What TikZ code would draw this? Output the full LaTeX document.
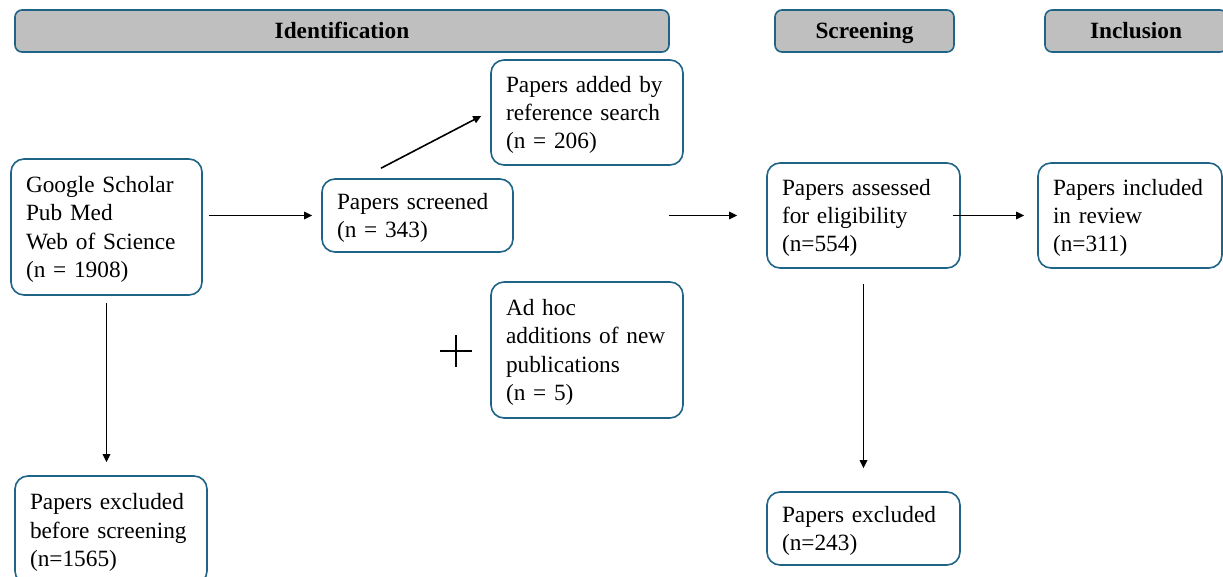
\documentclass[tikz,border=0pt]{standalone}
\usepackage{fontspec}
\setmainfont{Liberation Serif}
\usepackage{xcolor}
\usetikzlibrary{arrows.meta}
\usetikzlibrary{positioning}

\definecolor{boxblue}{RGB}{31,100,135}
\definecolor{bargray}{RGB}{191,191,191}

\tikzset{
	paperbox/.style={draw=boxblue, line width=1.6pt, rounded corners=13pt, fill=white,
		align=left, inner xsep=15pt, inner ysep=0pt,
		font=\fontsize{23.3}{28.4}\selectfont,
		execute at begin node={\rule{0pt}{21pt}}},
	phasebar/.style={draw=boxblue, line width=1.6pt, rounded corners=7pt, fill=bargray,
		minimum height=42pt, inner sep=0pt, text height=16pt, text depth=0pt,
		font=\fontsize{23.3}{28}\selectfont\bfseries},
	flowarrow/.style={line width=1.6pt, -{Triangle[length=8pt,width=7.5pt]}}
}

\begin{document}
\begin{tikzpicture}[x=1pt, y=-1pt]
	\useasboundingbox (0,0) rectangle (1223,577);
	
	% phase bars
	\node[phasebar, minimum width=654pt] (ident) at (342,31) {Identification};
	\node[phasebar, minimum width=179pt] (screen) at (864.5,31) {Screening};
	\node[phasebar, minimum width=182pt] (incl) at (1136,31) {Inclusion};
	
	% boxes
	\node[paperbox, text width=161pt, minimum height=136pt] (search) at (106.5,227) {Google Scholar\\Pub Med\\Web of Science\\(n = 1908)};
	\node[paperbox, text width=161pt, minimum height=73pt] (screened) at (417.5,215.5) {Papers screened\\(n = 343)};
	\node[paperbox, text width=162pt, minimum height=105pt] (added) at (587,112.5) {Papers added by\\reference search\\(n = 206)};
	\node[paperbox, text width=162pt, minimum height=136pt] (adhoc) at (587,350) {Ad hoc\\additions of new\\publications\\(n = 5)};
	\node[paperbox, text width=163pt, minimum height=105pt] (assessed) at (863.5,215.5) {Papers assessed\\for eligibility\\(n=554)};
	\node[paperbox, text width=154pt, minimum height=105pt] (included) at (1130,215.5) {Papers included\\in review\\(n=311)};
	\node[paperbox, text width=162pt, minimum height=108pt] (excluded) at (111,530) {Papers excluded\\before screening\\(n=1565)};
	\node[paperbox, text width=163pt, minimum height=73pt] (excl) at (863.5,528.5) {Papers excluded\\(n=243)};
	
	% add arrows
	\draw[flowarrow, shorten <=6pt, shorten >=9pt] (search.east |- screened.west) -- (screened.west);
	\draw[flowarrow] ([xshift=-36.5pt, yshift=10pt]screened.north) -- ([xshift=-9pt, yshift=-3.5pt]added.west);
	\draw[flowarrow, shorten <=155pt, shorten >=29pt] (screened.east) -- (assessed.west);
	\draw[flowarrow, shorten <=-8pt, shorten >=13pt] (assessed.east) -- (included.west);
	\draw[flowarrow, shorten <=7pt, shorten >=13pt] (search.south) -- (search.south |- excluded.north);
	\draw[flowarrow, shorten <=15pt, shorten >=23pt] (assessed.south) -- (excl.north);
	
	% plus sign
	\draw[line width=2.8pt] (440,351) -- (472,351) (456,335) -- (456,367);
\end{tikzpicture}
\end{document}
